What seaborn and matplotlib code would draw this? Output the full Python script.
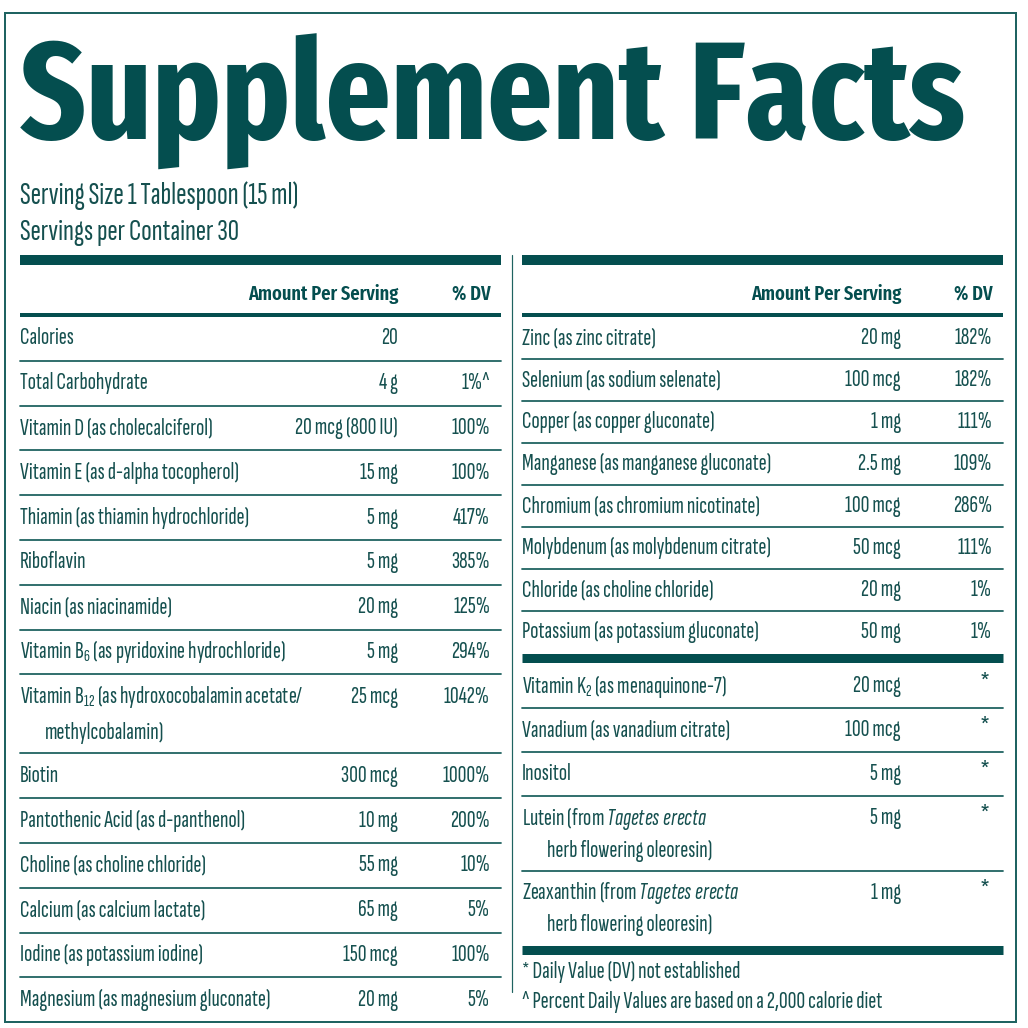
import matplotlib
matplotlib.use('Agg')
import matplotlib.pyplot as plt
import seaborn as sns

# label content
title = 'Supplement Facts'
serving_lines = ['Serving Size 1 Tablespoon (15 ml)', 'Servings per Container 30']
header_amount = 'Amount Per Serving'
header_dv = '% DV'

left_names = ['Calories', 'Total Carbohydrate', 'Vitamin D (as cholecalciferol)',
              'Vitamin E (as d-alpha tocopherol)', 'Thiamin (as thiamin hydrochloride)',
              'Riboflavin', 'Niacin (as niacinamide)',
              'Vitamin B$_{6}$ (as pyridoxine hydrochloride)',
              'Vitamin B$_{12}$ (as hydroxocobalamin acetate/\nmethylcobalamin)',
              'Biotin', 'Pantothenic Acid (as d-panthenol)', 'Choline (as choline chloride)',
              'Calcium (as calcium lactate)', 'Iodine (as potassium iodine)',
              'Magnesium (as magnesium gluconate)']
left_amounts = ['20', '4 g', '20 mcg (800 IU)', '15 mg', '5 mg', '5 mg', '20 mg', '5 mg',
                '25 mcg', '300 mcg', '10 mg', '55 mg', '65 mg', '150 mcg', '20 mg']
left_dv = ['', '1%^', '100%', '100%', '417%', '385%', '125%', '294%',
           '1042%', '1000%', '200%', '10%', '5%', '100%', '5%']

right_names = ['Zinc (as zinc citrate)', 'Selenium (as sodium selenate)',
               'Copper (as copper gluconate)', 'Manganese (as manganese gluconate)',
               'Chromium (as chromium nicotinate)', 'Molybdenum (as molybdenum citrate)',
               'Chloride (as choline chloride)', 'Potassium (as potassium gluconate)']
right_amounts = ['20 mg', '100 mcg', '1 mg', '2.5 mg', '100 mcg', '50 mcg', '20 mg', '50 mg']
right_dv = ['182%', '182%', '111%', '109%', '286%', '111%', '1%', '1%']

other_names = ['Vitamin K$_{2}$ (as menaquinone-7)', 'Vanadium (as vanadium citrate)', 'Inositol',
               'Lutein (from $\\mathit{Tagetes\\ erecta}$\nherb flowering oleoresin)',
               'Zeaxanthin (from $\\mathit{Tagetes\\ erecta}$\nherb flowering oleoresin)']
other_amounts = ['20 mcg', '100 mcg', '5 mg', '5 mg', '1 mg']
other_dv = ['*', '*', '*', '*', '*']

footnotes = ['* Daily Value (DV) not established',
             '^ Percent Daily Values are based on a 2,000 calorie diet']

sns.set_theme(style='white')
BODY = 'Sofia Sans Extra Condensed'
TITLE_FONT = 'Fira Sans Extra Condensed'
plt.rcParams['font.family'] = [BODY, 'DejaVu Sans']
plt.rcParams['mathtext.fontset'] = 'custom'
plt.rcParams['mathtext.rm'] = BODY
plt.rcParams['mathtext.it'] = BODY + ':italic'
plt.rcParams['mathtext.default'] = 'regular'

DARK = '#044e4f'
TEXT = '#15504f'
RULE = '#1f6361'
PX = 0.72  # points per pixel at dpi 100

fig = plt.figure(figsize=(10.28, 10.28), dpi=100)
ax = fig.add_axes([0, 0, 1, 1])
ax.set_xlim(0, 1028)
ax.set_ylim(1028, 0)
ax.set_axis_off()
sns.despine(ax=ax, left=True, bottom=True)
renderer = fig.canvas.get_renderer()


def fit_width(t, target):
    # rescale a text so its rendered width matches the target in pixels
    w = t.get_window_extent(renderer).width
    t.set_fontsize(t.get_fontsize() * target / w)
    return t.get_fontsize()


# body size taken from the widest left row
probe = ax.text(0, 0, left_names[-1], fontsize=15)
BODY_SIZE = fit_width(probe, 250)
probe.remove()

# outer frame
ax.plot([5, 1016, 1016, 5, 5], [13, 13, 1022, 1022, 13], color=RULE, lw=2 * PX,
        solid_joinstyle='miter')

t = ax.text(20, 140, title, color=DARK, fontsize=100, fontweight='bold',
            family=[TITLE_FONT, 'DejaVu Sans'], va='baseline', ha='left')
fit_width(t, 945)
for yb, s, w in zip([204, 240], serving_lines, [278, 219]):
    t = ax.text(20, yb, s, color=TEXT, fontsize=20, va='baseline', ha='left')
    fit_width(t, w)

# vertical divider between the two columns
ax.plot([512, 512], [255, 992], color=RULE, lw=1.2 * PX)


def body(x, y, s, ha='left', dy=0):
    return ax.text(x, y + dy, s, color=TEXT, fontsize=BODY_SIZE, va='center', ha=ha)


def column(x0, x1, xa, xd, names, amounts, dvs, top, row_h, dbl_h, star=False):
    y = top
    for i, (n, a, d) in enumerate(zip(names, amounts, dvs)):
        lines = n.split('\n')
        h = dbl_h if len(lines) > 1 else row_h
        yc = y + row_h / 2
        body(x0, yc, lines[0])
        if len(lines) > 1:
            body(x0 + 25, y + h - row_h / 2 + 2, lines[1])
        body(xa, yc, a, ha='right')
        if star:
            ax.text(xd - 2, yc - 1, d, color=TEXT, fontsize=BODY_SIZE * 1.35, va='center', ha='right')
        else:
            body(xd, yc, d, ha='right')
        y += h
        if i < len(names) - 1:
            ax.plot([x0, x1], [y, y], color=RULE, lw=1.8 * PX)
    return y


def header(x0, x1, xa, xd):
    ax.plot([x0, x1], [260, 260], color=DARK, lw=10 * PX, solid_capstyle='butt')
    hfont = [TITLE_FONT, 'DejaVu Sans']
    t = ax.text(xa, 300, header_amount, color=DARK, fontsize=16, fontweight='semibold',
                family=hfont, va='baseline', ha='right')
    size = fit_width(t, 150)
    ax.text(xd, 300, header_dv, color=DARK, fontsize=size, fontweight='semibold',
            family=hfont, va='baseline', ha='right')
    ax.plot([x0, x1], [315, 315], color=DARK, lw=4 * PX, solid_capstyle='butt')


# left column
header(20, 501, 398, 491)
column(20, 501, 398, 490, left_names, left_amounts, left_dv, 316, 44.8, 79)

# right column
header(522, 1003, 901, 993)
column(522, 1003, 901, 992, right_names, right_amounts, right_dv, 317, 42, 42)
ax.plot([522, 1003], [658, 658], color=DARK, lw=9 * PX, solid_capstyle='butt')
column(522, 1003, 901, 992, other_names, other_amounts, other_dv, 664, 44, 74.5, star=True)
ax.plot([522, 1003], [949.5, 949.5], color=DARK, lw=9 * PX, solid_capstyle='butt')

for yc, s in zip([972, 1002], footnotes):
    body(522, yc, s)

fig.savefig('out.png', dpi=100)
